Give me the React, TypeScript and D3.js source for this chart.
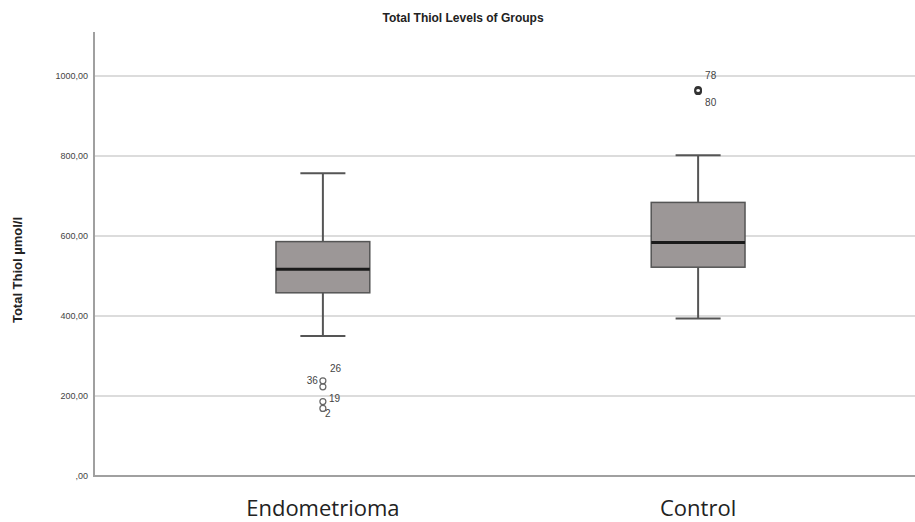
import React, { useEffect, useRef } from "react";
import * as d3 from "d3";

const categories = ["Endometrioma", "Control"];
const whiskerLow = [350, 394];
const q1 = [458, 522];
const median = [517, 584];
const q3 = [586, 684];
const whiskerHigh = [757, 802];

const outlierGroup = ["Endometrioma", "Endometrioma", "Endometrioma", "Endometrioma", "Control", "Control"];
const outlierValue = [238, 223, 186, 169, 965, 962];
const outlierId = ["26", "36", "19", "2", "78", "80"];

const yTicks = [0, 200, 400, 600, 800, 1000];

// where each case number sits next to its circle
const labelSide: Record<string, [number, number, string]> = {
  "26": [7, -9, "start"],
  "36": [-5, -3, "end"],
  "19": [6, 0, "start"],
  "2": [2, 9, "start"],
  "78": [7, -11, "start"],
  "80": [7, 15, "start"],
};

const W = 915;
const H = 522;

export default function App() {
  const ref = useRef<SVGSVGElement>(null);

  useEffect(() => {
    const svg = d3.select(ref.current);
    svg.selectAll("*").remove();

    const left = 94;
    const right = 915;
    const top = 32;
    const bottom = 476;

    const y = d3.scaleLinear().domain([0, 1110]).range([bottom, top]);
    const x = d3.scalePoint<string>().domain(categories).range([left, right + 12]).padding(0.61);
    const step = x.step();
    const boxW = step * 0.25;
    const capW = step * 0.12;

    // grid lines
    svg
      .append("g")
      .selectAll("line")
      .data(yTicks.filter((d) => d > 0))
      .enter()
      .append("line")
      .attr("x1", left)
      .attr("x2", right)
      .attr("y1", (d) => y(d))
      .attr("y2", (d) => y(d))
      .attr("stroke", "#dcdcdc")
      .attr("stroke-width", 2);

    // tick labels
    svg
      .append("g")
      .selectAll("text")
      .data(yTicks)
      .enter()
      .append("text")
      .attr("x", left - 6)
      .attr("y", (d) => y(d) + 3)
      .attr("text-anchor", "end")
      .attr("font-family", "Liberation Sans, Arial, sans-serif")
      .attr("font-size", 9)
      .attr("fill", "#444")
      .text((d) => (d === 0 ? ",00" : d + ",00"));

    // axes
    svg
      .append("line")
      .attr("x1", left)
      .attr("x2", left)
      .attr("y1", top)
      .attr("y2", bottom)
      .attr("stroke", "#a0a0a0")
      .attr("stroke-width", 2);
    svg
      .append("line")
      .attr("x1", left - 1)
      .attr("x2", right)
      .attr("y1", bottom)
      .attr("y2", bottom)
      .attr("stroke", "#a0a0a0")
      .attr("stroke-width", 2);

    const rows = categories.map((c, i) => ({
      name: c,
      lo: whiskerLow[i],
      q1: q1[i],
      med: median[i],
      q3: q3[i],
      hi: whiskerHigh[i],
    }));

    const g = svg.append("g").selectAll("g").data(rows).enter().append("g");

    // whiskers
    g.append("line")
      .attr("x1", (d) => x(d.name)!)
      .attr("x2", (d) => x(d.name)!)
      .attr("y1", (d) => y(d.hi))
      .attr("y2", (d) => y(d.lo))
      .attr("stroke", "#555")
      .attr("stroke-width", 2);
    g.append("line")
      .attr("x1", (d) => x(d.name)! - capW / 2)
      .attr("x2", (d) => x(d.name)! + capW / 2)
      .attr("y1", (d) => y(d.hi))
      .attr("y2", (d) => y(d.hi))
      .attr("stroke", "#555")
      .attr("stroke-width", 2);
    g.append("line")
      .attr("x1", (d) => x(d.name)! - capW / 2)
      .attr("x2", (d) => x(d.name)! + capW / 2)
      .attr("y1", (d) => y(d.lo))
      .attr("y2", (d) => y(d.lo))
      .attr("stroke", "#555")
      .attr("stroke-width", 2);

    // boxes
    g.append("rect")
      .attr("x", (d) => x(d.name)! - boxW / 2)
      .attr("width", boxW)
      .attr("y", (d) => y(d.q3))
      .attr("height", (d) => y(d.q1) - y(d.q3))
      .attr("fill", "#9c9797")
      .attr("stroke", "#555")
      .attr("stroke-width", 1.5);
    g.append("line")
      .attr("x1", (d) => x(d.name)! - boxW / 2)
      .attr("x2", (d) => x(d.name)! + boxW / 2)
      .attr("y1", (d) => y(d.med))
      .attr("y2", (d) => y(d.med))
      .attr("stroke", "#1a1a1a")
      .attr("stroke-width", 3);

    // outliers
    const outs = outlierValue.map((v, i) => ({ g: outlierGroup[i], v, id: outlierId[i] }));
    svg
      .append("g")
      .selectAll("circle")
      .data(outs)
      .enter()
      .append("circle")
      .attr("cx", (d) => x(d.g)!)
      .attr("cy", (d) => y(d.v))
      .attr("r", 3)
      .attr("fill", "none")
      .attr("stroke", (d) => (d.g === "Control" ? "#333" : "#666"))
      .attr("stroke-width", (d) => (d.g === "Control" ? 1.8 : 1.2));
    svg
      .append("g")
      .selectAll("text")
      .data(outs)
      .enter()
      .append("text")
      .attr("x", (d) => x(d.g)! + labelSide[d.id][0])
      .attr("y", (d) => y(d.v) + labelSide[d.id][1])
      .attr("text-anchor", (d) => labelSide[d.id][2])
      .attr("font-family", "Liberation Sans, Arial, sans-serif")
      .attr("font-size", 10)
      .attr("fill", "#444")
      .text((d) => d.id);

    // category labels
    svg
      .append("g")
      .selectAll("text")
      .data(categories)
      .enter()
      .append("text")
      .attr("x", (d) => x(d)!)
      .attr("y", 516)
      .attr("text-anchor", "middle")
      .attr("font-family", "Open Sans, Noto Sans, sans-serif")
      .attr("font-size", 22)
      .attr("fill", "#222")
      .text((d) => d);

    // title
    svg
      .append("text")
      .attr("x", 463)
      .attr("y", 22)
      .attr("text-anchor", "middle")
      .attr("font-family", "Liberation Sans, Arial, sans-serif")
      .attr("font-weight", "bold")
      .attr("font-size", 12)
      .attr("fill", "#222")
      .text("Total Thiol Levels of Groups");

    // y axis title
    svg
      .append("text")
      .attr("transform", "translate(22,270) rotate(-90)")
      .attr("text-anchor", "middle")
      .attr("font-family", "Liberation Sans, Arial, sans-serif")
      .attr("font-weight", "bold")
      .attr("font-size", 13)
      .attr("fill", "#222")
      .text("Total Thiol µmol/l");
  }, []);

  return (
    <svg
      ref={ref}
      width={W}
      height={H}
      style={{ position: "absolute", left: 0, top: 0, background: "#fff" }}
    />
  );
}
